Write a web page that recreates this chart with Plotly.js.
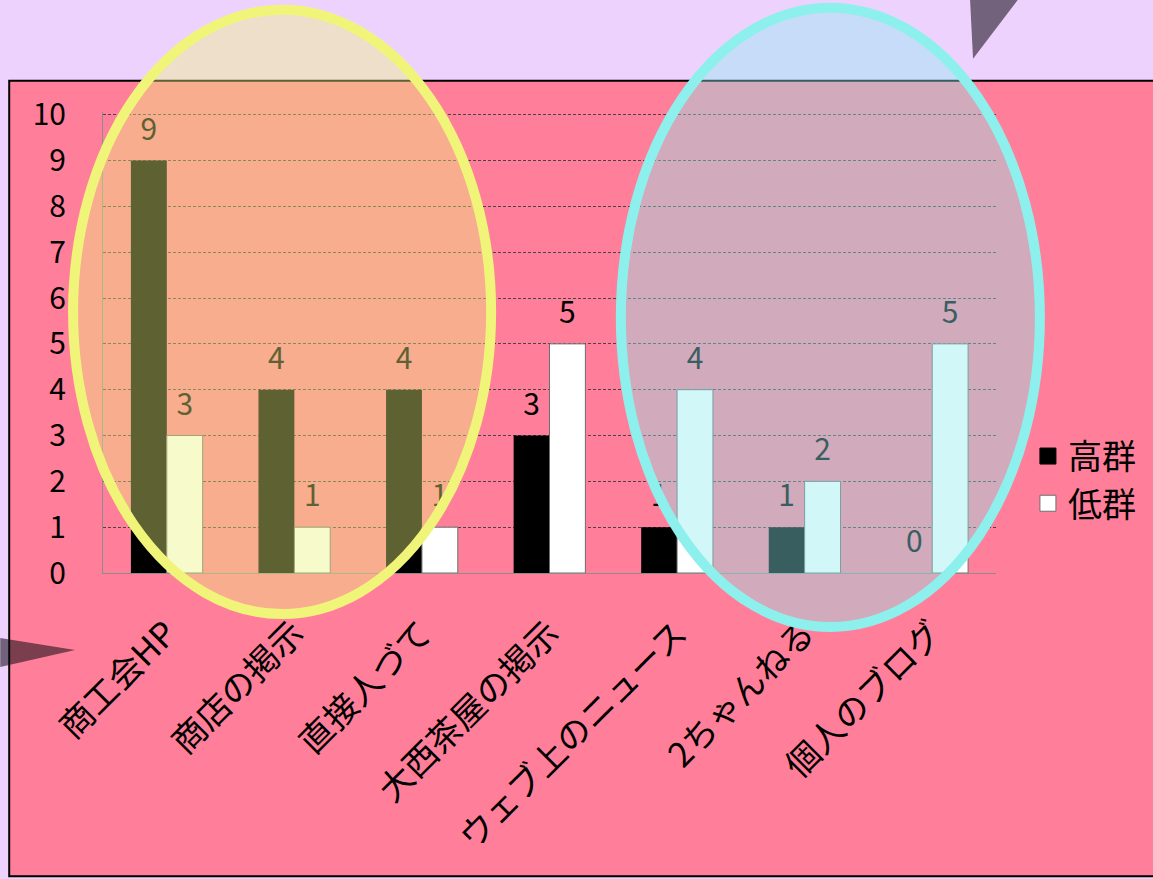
<!DOCTYPE html>
<html><head><meta charset="utf-8">
<script src="https://cdn.plot.ly/plotly-3.0.1.min.js"></script>
<style>html,body{margin:0;padding:0;background:#EED2FE;}#chart{width:1153px;height:879px;}</style>
</head><body><div id="chart"></div>
<script>
const categories = ['商工会HP','商店の掲示','直接人づて','大西茶屋の掲示','ウェブ上のニュース','2ちゃんねる','個人のブログ'];
const seriesNames = ['高群','低群'];
const highValues = [9,4,4,3,1,1,0];
const lowValues = [3,1,1,5,4,2,5];
const yTicks = [0,1,2,3,4,5,6,7,8,9,10];

const W = 1153, H = 879;
const YMAX = 10.06;
const L = 103, R = 998, B = 573;
const T = B - 458 * YMAX / 10;
const px = x => (x - L) / (R - L);
const py = y => (B - y) / (B - T);

const FONT = '"Noto Sans CJK JP", "Noto Sans", sans-serif';
const BARGAP = 0.4375;
const barW = (1 - BARGAP) / 2;
const idx = categories.map((_, i) => i);

const traces = [
  {type:'bar', name:seriesNames[0], x:idx, y:highValues, showlegend:false,
   marker:{color:'#000000', line:{width:0}}},
  {type:'bar', name:seriesNames[1], x:idx, y:lowValues, showlegend:false,
   marker:{color:'#FFFFFF', line:{color:'#6E6E6E', width:1}}},
  {type:'scatter', mode:'markers+text', x:idx.map(i => i - barW/2), y:highValues,
   text:highValues.map(String), textposition:'top center', showlegend:false, cliponaxis:false,
   marker:{size:20, color:'rgba(0,0,0,0)'}, textfont:{size:30, color:'#000', family:FONT}},
  {type:'scatter', mode:'markers+text', x:idx.map(i => i + barW/2), y:lowValues,
   text:lowValues.map(String), textposition:'top center', showlegend:false, cliponaxis:false,
   marker:{size:20, color:'rgba(0,0,0,0)'}, textfont:{size:30, color:'#000', family:FONT}},
  {type:'scatter', mode:'markers', name:seriesNames[0], x:[null], y:[null], legendgroup:'a',
   marker:{symbol:'square', size:18, color:'#000000', line:{color:'#000', width:1}}},
  {type:'scatter', mode:'markers', name:seriesNames[1], x:[null], y:[null], legendgroup:'b',
   marker:{symbol:'square', size:18, color:'#FFFFFF', line:{color:'#6E6E6E', width:1}}}
];

function tri(pts){ return 'M' + pts.map(p => px(p[0]) + ',' + py(p[1])).join(' L') + ' Z'; }

const shapes = [
  {type:'rect', xref:'paper', yref:'paper', layer:'below',
   x0:px(9), x1:px(1200), y0:py(876), y1:py(81),
   fillcolor:'#FF7F9A', line:{color:'#000000', width:2}},
  {type:'circle', xref:'paper', yref:'paper', layer:'above',
   x0:px(73), x1:px(492), y0:py(614), y1:py(10),
   fillcolor:'rgba(235,242,125,0.4)', line:{width:0}},
  {type:'circle', xref:'paper', yref:'paper', layer:'above',
   x0:px(73), x1:px(492), y0:py(614), y1:py(10),
   fillcolor:'rgba(0,0,0,0)', line:{color:'#F0F57A', width:10}},
  {type:'circle', xref:'paper', yref:'paper', layer:'above',
   x0:px(622), x1:px(1042), y0:py(627), y1:py(8),
   fillcolor:'rgba(140,235,240,0.4)', line:{width:0}},
  {type:'circle', xref:'paper', yref:'paper', layer:'above',
   x0:px(622), x1:px(1042), y0:py(627), y1:py(8),
   fillcolor:'rgba(0,0,0,0)', line:{color:'#8EF0EC', width:10}},
  {type:'path', xref:'paper', yref:'paper', layer:'above',
   path:tri([[972,0],[1020,0],[975,59]]),
   fillcolor:'rgba(18,10,20,0.56)', line:{width:0}},
  {type:'path', xref:'paper', yref:'paper', layer:'above',
   path:tri([[0,638],[75,650],[0,667]]),
   fillcolor:'rgba(18,10,20,0.56)', line:{width:0}}
];

const layout = {
  width:W, height:H,
  margin:{l:L, r:W-R, t:T, b:H-B, pad:0},
  paper_bgcolor:'#EED2FE', plot_bgcolor:'rgba(0,0,0,0)',
  font:{family:FONT, color:'#000000', size:26},
  barmode:'group', bargap:BARGAP, bargroupgap:0,
  showlegend:true,
  legend:{x:px(1030), y:py(480), xanchor:'left', yanchor:'middle',
          bgcolor:'rgba(0,0,0,0)', font:{size:34, family:FONT, color:'#000'},
          tracegroupgap:18, traceorder:'normal', itemsizing:'trace'},
  xaxis:{range:[-0.5, categories.length - 0.5], tickvals:idx, ticktext:categories,
         showline:true, linecolor:'#8C8C8C', linewidth:1,
         tickangle:-45, tickfont:{size:34, family:FONT, color:'#000'},
         ticks:'', ticklabelstandoff:26, showgrid:false, zeroline:false},
  yaxis:{range:[0, YMAX], tickvals:yTicks, ticktext:yTicks.map(String),
         showline:true, linecolor:'#8C8C8C', linewidth:1,
         showgrid:true, gridcolor:'#454545', gridwidth:1, griddash:'3px,2px',
         zeroline:false, ticks:'', ticklabelstandoff:30,
         tickfont:{size:30, family:FONT, color:'#000'}},
  shapes:shapes
};

Plotly.newPlot('chart', traces, layout, {displayModeBar:false, staticPlot:true});
</script>
</body></html>
